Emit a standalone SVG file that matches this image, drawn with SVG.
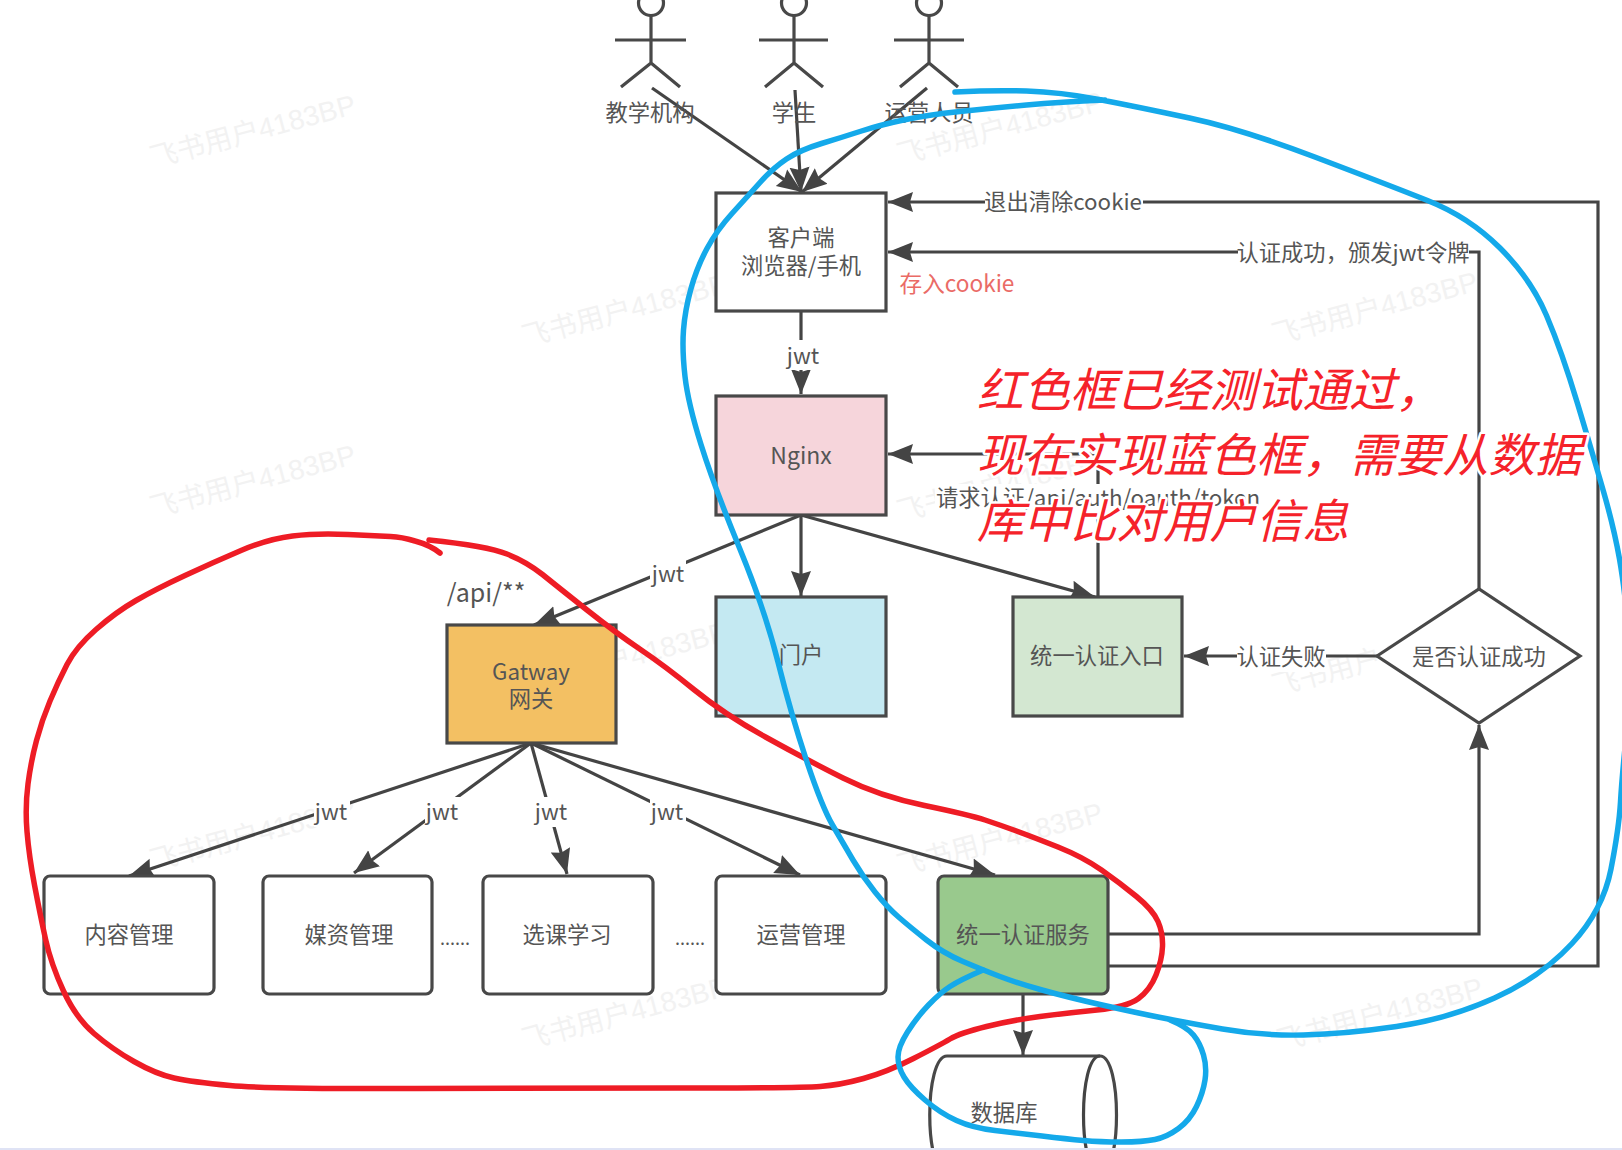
<svg xmlns="http://www.w3.org/2000/svg" width="1622" height="1150" viewBox="0 0 1622 1150">
<style>
text{font-family:"Noto Sans CJK SC","Noto Sans",sans-serif;fill:#555;font-size:22.3px;text-anchor:middle}
.wm{fill:#f2f2f2;font-size:28px;font-family:"Liberation Sans","Noto Sans CJK SC",sans-serif;text-anchor:start}
.box{stroke:#484848;stroke-width:3.2;fill:#fff}
.line{stroke:#444;stroke-width:3.2;fill:none}
.arr{marker-end:url(#ah)}
.bg{fill:#fff}
.actor{stroke:#484848;stroke-width:3.2;fill:none}
.big{fill:#f5222a;font-size:46.5px;font-style:italic;text-anchor:start;stroke:#fff;stroke-width:5;paint-order:stroke;stroke-linejoin:round}
.ink{fill:none;stroke-width:5.5;stroke-linecap:round;stroke-linejoin:round}
</style>
<defs><marker id="ah" markerUnits="userSpaceOnUse" markerWidth="28" markerHeight="24" refX="25" refY="11" orient="auto"><path d="M25,11 L0,1 L3,11 L0,21 Z" fill="#444"/></marker></defs>
<rect width="1622" height="1150" fill="#fff"/>
<g id="watermarks">
<text class="wm" transform="translate(153,168) rotate(-15)">飞书用户4183BP</text>
<text class="wm" transform="translate(900,165) rotate(-15)">飞书用户4183BP</text>
<text class="wm" transform="translate(525,347) rotate(-15)">飞书用户4183BP</text>
<text class="wm" transform="translate(1275,345) rotate(-15)">飞书用户4183BP</text>
<text class="wm" transform="translate(153,518) rotate(-15)">飞书用户4183BP</text>
<text class="wm" transform="translate(900,522) rotate(-15)">飞书用户4183BP</text>
<text class="wm" transform="translate(525,695) rotate(-15)">飞书用户4183BP</text>
<text class="wm" transform="translate(1275,696) rotate(-15)">飞书用户4183BP</text>
<text class="wm" transform="translate(153,871) rotate(-15)">飞书用户4183BP</text>
<text class="wm" transform="translate(900,876) rotate(-15)">飞书用户4183BP</text>
<text class="wm" transform="translate(525,1050) rotate(-15)">飞书用户4183BP</text>
<text class="wm" transform="translate(1280,1051) rotate(-15)">飞书用户4183BP</text>
</g>
<g id="connectors">
<path class="line arr" d="M652,88 L802,192"/>
<path class="line arr" d="M795,90 L801,192"/>
<path class="line arr" d="M927,88 L802,192"/>
<path class="line arr" d="M801,311 L801,394"/>
<path class="line arr" d="M1098,597 L1098,454 L888,454"/>
<path class="line arr" d="M801,515 L534,625"/>
<path class="line arr" d="M801,515 L801,596"/>
<path class="line arr" d="M801,515 L1095,597"/>
<path class="line arr" d="M531,743 L129,876"/>
<path class="line arr" d="M531,743 L354,873"/>
<path class="line arr" d="M531,743 L567,874"/>
<path class="line arr" d="M531,743 L800,875"/>
<path class="line arr" d="M531,743 L995,875"/>
<path class="line arr" d="M1108,934 L1479,934 L1479,725"/>
<path class="line arr" d="M1108,966 L1598,966 L1598,202 L888,202"/>
<path class="line arr" d="M1479,589 L1479,252 L888,252"/>
<path class="line arr" d="M1377,656 L1184,656"/>
<path class="line arr" d="M1023,993 L1023,1055"/>
<rect class="bg" x="785" y="340" width="36" height="30"/><text x="803" y="364">jwt</text>
<rect class="bg" x="650" y="558" width="36" height="30"/><text x="668" y="582">jwt</text>
<rect class="bg" x="314" y="797" width="36" height="30"/><text x="331" y="820">jwt</text>
<rect class="bg" x="425" y="797" width="36" height="30"/><text x="442" y="820">jwt</text>
<rect class="bg" x="534" y="797" width="36" height="30"/><text x="551" y="820">jwt</text>
<rect class="bg" x="650" y="797" width="36" height="30"/><text x="667" y="820">jwt</text>
<rect class="bg" x="935" y="484" width="326" height="30"/><text x="1098" y="506">请求认证/api/auth/oauth/token</text>
<rect class="bg" x="985" y="188" width="158" height="30"/><text x="1063" y="210">退出清除cookie</text>
<rect class="bg" x="1238" y="238" width="231" height="30"/><text x="1353" y="261">认证成功，颁发jwt令牌</text>
<rect class="bg" x="1237" y="642" width="89" height="30"/><text x="1281" y="665">认证失败</text>
</g>
<g id="actor1" class="actor"><circle cx="651" cy="3" r="12.5"/><path d="M651,16 V63 M615,40 H686 M651,63 L621,87 M651,63 L680,87"/></g>
<text x="650" y="121" id="actor1-label">教学机构</text>
<g id="actor2" class="actor"><circle cx="794" cy="3" r="12.5"/><path d="M794,16 V63 M759,40 H828 M794,63 L765,87 M794,63 L823,87"/></g>
<text x="794" y="121" id="actor2-label">学生</text>
<g id="actor3" class="actor"><circle cx="929" cy="3" r="12.5"/><path d="M929,16 V63 M894,40 H964 M929,63 L900,87 M929,63 L958,87"/></g>
<text x="929" y="121" id="actor3-label">运营人员</text>
<g id="client"><rect class="box" x="716" y="193" width="170" height="118"/><text x="801" y="246">客户端</text><text x="801" y="274">浏览器/手机</text></g>
<text x="957" y="292" style="fill:#ea6b66;font-size:22.6px">存入cookie</text>
<g id="nginx"><rect class="box" x="716" y="396" width="170" height="119" style="fill:#f6d5db"/><text x="801" y="464" style="font-size:23px">Nginx</text></g>
<g id="portal"><rect class="box" x="716" y="597" width="170" height="119" style="fill:#c4e9f2"/><text x="801" y="663">门户</text></g>
<g id="auth-entry"><rect class="box" x="1013" y="597" width="169" height="119" style="fill:#d3e7d1"/><text x="1097" y="664">统一认证入口</text></g>
<g id="decision"><path class="box" d="M1377,656 L1479,589 L1580,656 L1479,723 Z"/><text x="1479" y="665">是否认证成功</text></g>
<g id="gateway"><rect class="box" x="447" y="625" width="169" height="118" style="fill:#f3c063"/><text x="531" y="680">Gatway</text><text x="531" y="707">网关</text></g>
<text x="486" y="602" style="font-size:25px">/api/**</text>
<g id="svc-content"><rect class="box" x="44" y="876" width="170" height="118" rx="6"/><text x="129" y="943">内容管理</text></g>
<g id="svc-media"><rect class="box" x="263" y="876" width="169" height="118" rx="6"/><text x="349" y="943">媒资管理</text></g>
<text x="455" y="945" style="font-size:18px">......</text>
<g id="svc-course"><rect class="box" x="483" y="876" width="170" height="118" rx="6"/><text x="567" y="943">选课学习</text></g>
<text x="690" y="945" style="font-size:18px">......</text>
<g id="svc-ops"><rect class="box" x="716" y="876" width="170" height="118" rx="6"/><text x="801" y="943">运营管理</text></g>
<g id="svc-auth"><rect class="box" x="938" y="876" width="170" height="118" rx="6" style="fill:#99c98d"/><text x="1023" y="943">统一认证服务</text></g>
<g id="database"><path class="box" d="M947,1056 H1100 C1122,1056 1122,1174 1100,1174 H947 C924,1174 924,1056 947,1056 Z"/><path class="line" d="M1100,1056 C1078,1056 1078,1174 1100,1174"/><text x="1004" y="1121">数据库</text></g>
<g id="annotations">
<path class="ink" stroke="#ee1c25" d="M440,553 Q430,545 415,541 Q402,537 390.5,536.5 Q379,536 348,534.5 Q317,533 292.5,536 Q268,539 241,550.5 Q214,562 185,575.5 Q156,589 136,600.5 Q116,612 96,629.5 Q76,647 67,664.5 Q58,682 50,701 Q42,720 36.5,740.5 Q31,761 28,784 Q25,807 27,831.5 Q29,856 34.5,885 Q40,914 45.5,939 Q51,964 63.5,991 Q76,1018 94,1033.5 Q112,1049 134,1061.5 Q156,1074 174,1078 Q192,1082 230,1085.5 Q268,1089 415,1088.5 Q562,1088 681,1088 Q800,1088 820,1086.5 Q840,1085 863.5,1078.5 Q887,1072 913.5,1058.5 Q940,1045 950,1039 Q960,1033 986.5,1026.5 Q1013,1020 1040,1016.5 Q1067,1013 1097,1010 Q1127,1007 1138.5,998.5 Q1150,990 1156,975 Q1162,960 1162.5,946.5 Q1163,933 1158,921.5 Q1153,910 1136.5,896.5 Q1120,883 1101.5,870 Q1083,857 1058,847 Q1033,837 1016.5,831 Q1000,825 985,820 Q970,815 924.5,805.5 Q879,796 843,778 Q807,760 765.5,737 Q724,714 694.5,690 Q665,666 640.5,649.5 Q616,633 587,610 Q558,587 542.5,574.5 Q527,562 507,554 Q487,546 429,540"/>
<path class="ink" stroke="#14a9ea" d="M955,92 Q993,90 1026.5,91 Q1060,92 1099,99.5 Q1138,107 1189.5,118 Q1241,129 1313.5,156.5 Q1386,184 1427.5,200.5 Q1469,217 1500,248 Q1531,279 1546.5,315.5 Q1562,352 1577.5,403.5 Q1593,455 1603.5,491.5 Q1614,528 1619.5,559 Q1625,590 1628.5,635 Q1632,680 1627,728 Q1622,776 1620.5,802 Q1619,828 1611,869 Q1603,910 1572,943.5 Q1541,977 1494.5,998 Q1448,1019 1396.5,1026.5 Q1345,1034 1303.5,1035 Q1262,1036 1222.5,1029 Q1183,1022 1158,1017 Q1133,1012 1100,1004.5 Q1067,997 1042,990 Q1017,983 1000,976.5 Q983,970 963,961.5 Q943,953 926.5,940 Q910,927 898.5,917 Q887,907 875,892 Q863,877 853,860 Q843,843 832.5,825 Q822,807 806.5,760.5 Q791,714 778,662 Q765,610 739.5,548 Q714,486 701,444.5 Q688,403 685,376.5 Q682,350 683.5,330 Q685,310 691,288.5 Q697,267 707,248.5 Q717,230 732,213.5 Q747,197 760,182.5 Q773,168 786.5,159 Q800,150 821.5,143.5 Q843,137 861.5,131 Q880,125 903.5,120 Q927,115 960,111.5 Q993,108 1026.5,105 Q1060,102 1105,100"/>
<path class="ink" stroke="#14a9ea" d="M983,970 Q960,980 950,986.5 Q940,993 928.5,1005 Q917,1017 907.5,1032 Q898,1047 898,1057 Q898,1067 904,1077 Q910,1087 925,1100 Q940,1113 956.5,1120.5 Q973,1128 995,1130.5 Q1017,1133 1042,1136 Q1067,1139 1083.5,1140.5 Q1100,1142 1121.5,1142 Q1143,1142 1155,1139.5 Q1167,1137 1178.5,1128.5 Q1190,1120 1196.5,1106.5 Q1203,1093 1205,1080 Q1207,1067 1203.5,1055 Q1200,1043 1193.5,1035 Q1187,1027 1170,1020"/>
<text class="big" x="977" y="407">红色框已经测试通过，</text>
<text class="big" x="977" y="472">现在实现蓝色框，需要从数据</text>
<text class="big" x="977" y="538">库中比对用户信息</text>
</g>
<rect x="0" y="1148" width="1622" height="2" fill="#dfe3f5"/>
</svg>
